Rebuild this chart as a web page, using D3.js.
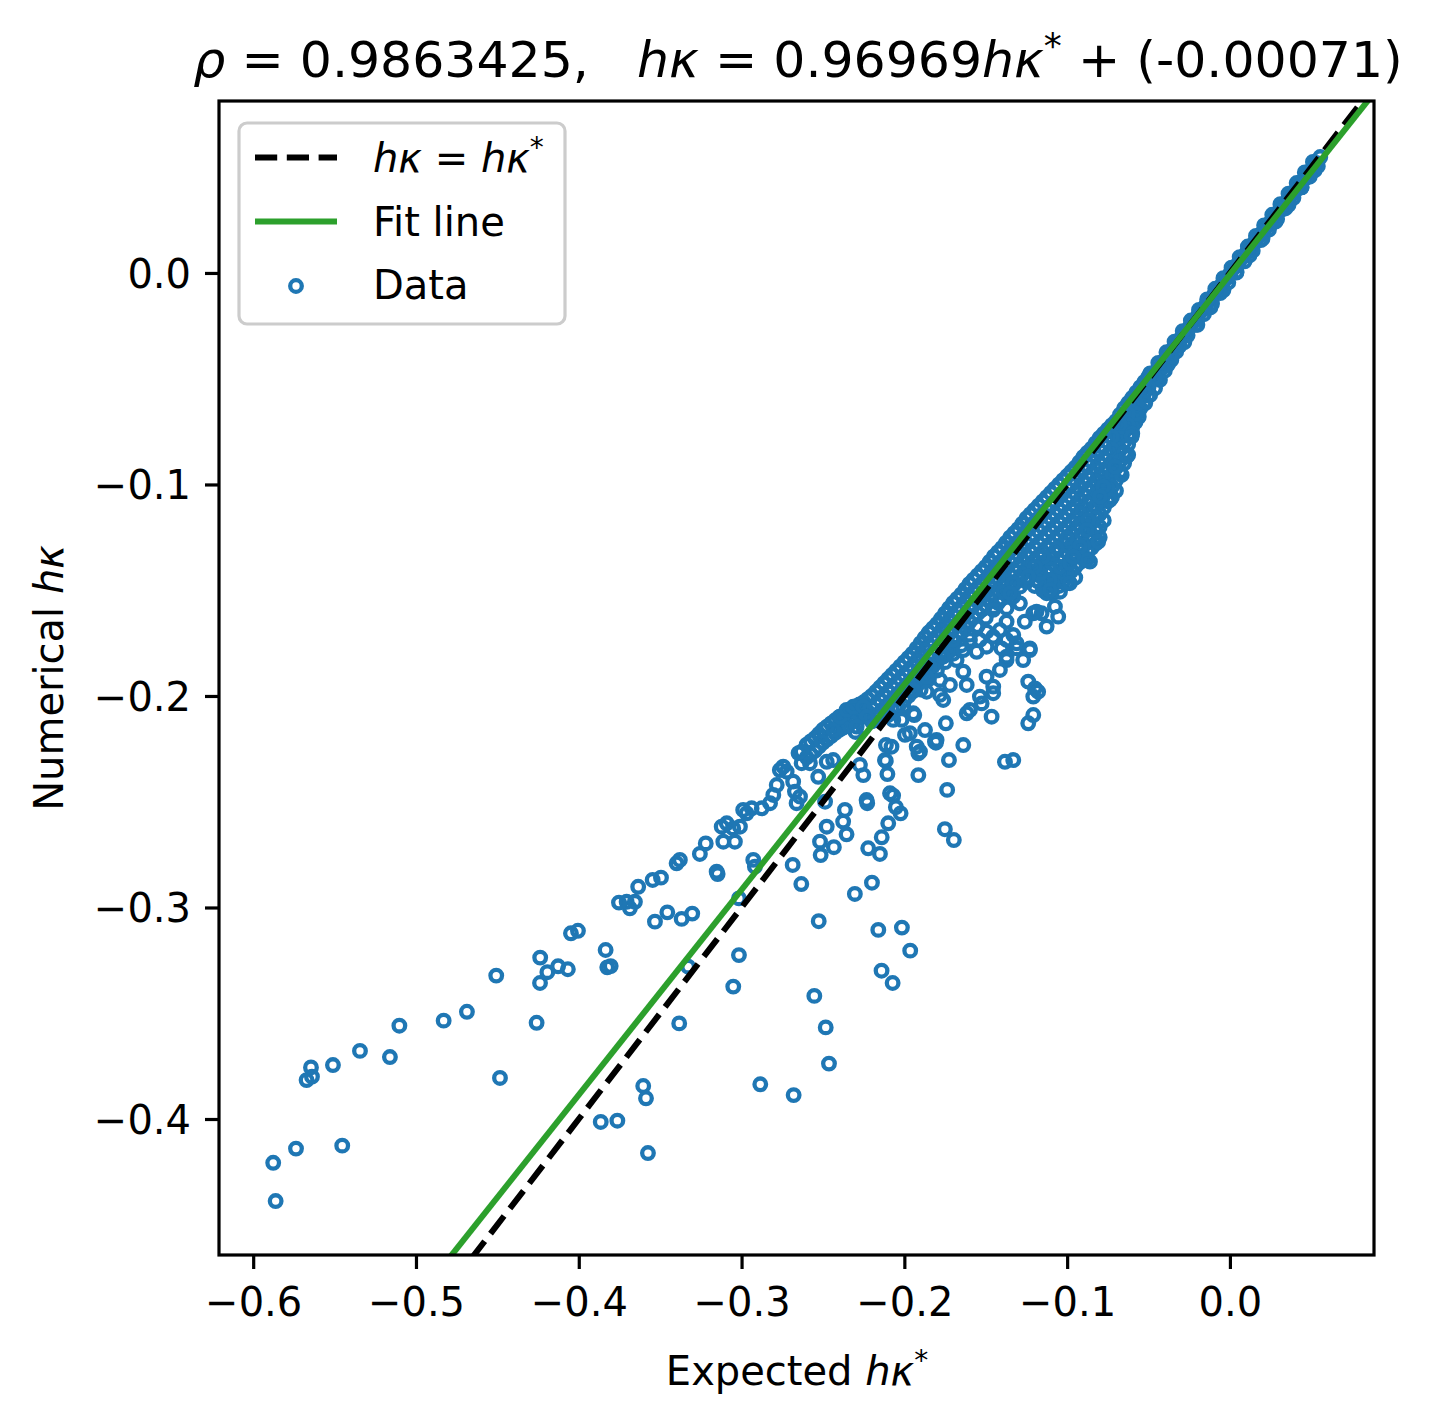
<!DOCTYPE html>
<html>
<head>
<meta charset="utf-8">
<script src="https://cdn.jsdelivr.net/npm/d3@7"></script>
<style>
  html, body { margin: 0; padding: 0; background: #fff; }
  svg text { font-family: "DejaVu Sans", sans-serif; white-space: pre; }
</style>
</head>
<body>
<svg id="chart" width="1432" height="1426"></svg>
<script>
// ---------------- DATA ----------------
const xTicks = [-0.6, -0.5, -0.4, -0.3, -0.2, -0.1, 0.0];
const yTicks = [-0.4, -0.3, -0.2, -0.1, 0.0];
const xDomain = [-0.621, 0.0885];
const yDomain = [-0.4643, 0.0813];
const fitSlope = 0.96969;
const fitIntercept = -0.00071;
const rhoValue = "0.9863425";

// tight band near the identity line (expected, numerical)
const bandPoints = [
  [0.0555,0.0548],[0.0530,0.0520],[0.0505,0.0492],[0.0480,0.0470],[0.0455,0.0442],
  [0.0430,0.0420],[0.0405,0.0392],[0.0380,0.0371],[0.0355,0.0343],[0.0330,0.0322],
  [0.0305,0.0294],[0.0280,0.0273],[0.0255,0.0246],[0.0230,0.0223],[0.0205,0.0197],
  [0.0180,0.0174],[0.0155,0.0148],[0.0130,0.0125],[0.0105,0.0099],[0.0080,0.0076],
  [0.0055,0.0050],[0.0030,0.0027],[0.0005,0.0001],[-0.0020,-0.0024],[-0.0045,-0.0050],
  [-0.0070,-0.0073],[-0.0095,-0.0100],[-0.0120,-0.0124],[-0.0145,-0.0150],[-0.0170,-0.0176],
  [-0.0195,-0.0200],[-0.0220,-0.0228],[-0.0245,-0.0252],[-0.0270,-0.0279],[-0.0295,-0.0302],
  [-0.0320,-0.0330],[-0.0345,-0.0353],[-0.0370,-0.0381],[-0.0395,-0.0405],[-0.0420,-0.0433],
  [-0.0445,-0.0457],[-0.0470,-0.0485],[-0.0495,-0.0509],
  [0.052,0.0485],[0.044,0.0405],[0.036,0.0322],[0.028,0.0243],[0.020,0.0162],[0.012,0.0083],
  [0.004,0.0002],[-0.004,-0.0081],[-0.012,-0.0163],[-0.020,-0.0245],[-0.028,-0.0327],
  [-0.036,-0.0411],[-0.044,-0.0497],
  [-0.043,-0.0506],[-0.049,-0.0577],[-0.040,-0.0462],[-0.046,-0.0545],[-0.052,-0.0615],
  [-0.056,-0.0680],[-0.058,-0.0705],[-0.038,-0.0432],[-0.033,-0.0372]
];
const bandLowerRow = [
  [0.054,0.0505],[0.049,0.0455],[0.044,0.0405],[0.039,0.0355],[0.034,0.0305],[0.029,0.0255],
  [0.024,0.0205],[0.019,0.0155],[0.014,0.0105],[0.009,0.0055],[0.004,0.0005],[-0.001,-0.0045],
  [-0.006,-0.0095],[-0.011,-0.0145],[-0.016,-0.0195],[-0.021,-0.0245],[-0.026,-0.0295],
  [-0.031,-0.0345],[-0.036,-0.0395],[-0.041,-0.0445],[-0.046,-0.0495]
];
const bandUpperRow = [
  [0.051,0.0525],[0.046,0.0475],[0.041,0.0425],[0.036,0.0375],[0.031,0.0325],[0.026,0.0275],
  [0.021,0.0225],[0.016,0.0175],[0.011,0.0125],[0.006,0.0075],[0.001,0.0025],[-0.004,-0.0025],
  [-0.009,-0.0075],[-0.014,-0.0125],[-0.019,-0.0175],[-0.024,-0.0225],[-0.029,-0.0275],
  [-0.034,-0.0325],[-0.039,-0.0375],[-0.044,-0.0425],[-0.049,-0.0475]
];

// dense cluster: [expected, numerical values ...]
const clusterColumns = [
  [-0.050, -0.049, -0.054, -0.058],
  [-0.055, -0.054, -0.059, -0.064],
  [-0.060, -0.059, -0.064, -0.069, -0.073],
  [-0.065, -0.064, -0.069, -0.075, -0.080],
  [-0.070, -0.070, -0.075, -0.081, -0.087],
  [-0.075, -0.074, -0.080, -0.086, -0.092, -0.097],
  [-0.080, -0.078, -0.084, -0.090, -0.096, -0.102],
  [-0.085, -0.083, -0.089, -0.095, -0.101, -0.107, -0.112],
  [-0.090, -0.087, -0.093, -0.099, -0.105, -0.111, -0.117],
  [-0.095, -0.092, -0.098, -0.104, -0.110, -0.116, -0.121],
  [-0.100, -0.096, -0.102, -0.108, -0.114, -0.120, -0.126],
  [-0.105, -0.100, -0.106, -0.112, -0.118, -0.124, -0.130],
  [-0.110, -0.104, -0.110, -0.116, -0.122, -0.128, -0.134],
  [-0.115, -0.108, -0.114, -0.120, -0.126, -0.132, -0.138],
  [-0.120, -0.112, -0.118, -0.124, -0.130, -0.136, -0.142],
  [-0.125, -0.116, -0.122, -0.128, -0.134, -0.140, -0.146],
  [-0.130, -0.121, -0.127, -0.133, -0.139, -0.145],
  [-0.135, -0.125, -0.131, -0.137, -0.143, -0.149],
  [-0.140, -0.130, -0.136, -0.142, -0.148, -0.154],
  [-0.145, -0.134, -0.140, -0.146, -0.152, -0.158],
  [-0.150, -0.139, -0.145, -0.151, -0.157, -0.163],
  [-0.155, -0.143, -0.149, -0.155, -0.161, -0.167],
  [-0.160, -0.147, -0.153, -0.159, -0.165, -0.171],
  [-0.165, -0.152, -0.158, -0.164, -0.170, -0.176],
  [-0.170, -0.156, -0.162, -0.168, -0.174, -0.180],
  [-0.175, -0.161, -0.167, -0.173, -0.179, -0.184],
  [-0.180, -0.166, -0.172, -0.178, -0.184, -0.188],
  [-0.185, -0.170, -0.176, -0.182, -0.188, -0.192],
  [-0.190, -0.175, -0.181, -0.187, -0.193, -0.197],
  [-0.195, -0.180, -0.186, -0.192, -0.198],
  [-0.200, -0.184, -0.190, -0.196, -0.202],
  [-0.205, -0.188, -0.194, -0.200, -0.206],
  [-0.210, -0.192, -0.198, -0.204, -0.209],
  [-0.215, -0.196, -0.202, -0.208],
  [-0.220, -0.200, -0.206, -0.212],
  [-0.225, -0.203, -0.209, -0.215],
  [-0.230, -0.205, -0.211, -0.217],
  [-0.235, -0.208, -0.214],
  [-0.240, -0.210, -0.216],
  [-0.245, -0.213, -0.219],
  [-0.250, -0.216, -0.222],
  [-0.255, -0.220, -0.226],
  [-0.260, -0.223, -0.229],
  [-0.265, -0.227]
];
const clusterColumnsMid = [
  [-0.0525, -0.0515, -0.0565, -0.0610],
  [-0.0575, -0.0565, -0.0615, -0.0665],
  [-0.0625, -0.0615, -0.0665, -0.0720, -0.0770],
  [-0.0675, -0.0670, -0.0720, -0.0780, -0.0835],
  [-0.0725, -0.0720, -0.0775, -0.0835, -0.0895],
  [-0.0775, -0.0760, -0.0820, -0.0880, -0.0940, -0.0995],
  [-0.0825, -0.0805, -0.0865, -0.0925, -0.0985, -0.1045],
  [-0.0875, -0.0850, -0.0910, -0.0970, -0.1030, -0.1090, -0.1145],
  [-0.0925, -0.0895, -0.0955, -0.1015, -0.1075, -0.1135, -0.1190],
  [-0.0975, -0.0940, -0.1000, -0.1060, -0.1120, -0.1180, -0.1235],
  [-0.1025, -0.0980, -0.1040, -0.1100, -0.1160, -0.1220, -0.1280],
  [-0.1075, -0.1020, -0.1080, -0.1140, -0.1200, -0.1260, -0.1320],
  [-0.1125, -0.1060, -0.1120, -0.1180, -0.1240, -0.1300, -0.1360],
  [-0.1175, -0.1100, -0.1160, -0.1220, -0.1280, -0.1340, -0.1400],
  [-0.1225, -0.1140, -0.1200, -0.1260, -0.1320, -0.1380],
  [-0.1275, -0.1185, -0.1245, -0.1305, -0.1365, -0.1425],
  [-0.1325, -0.1230, -0.1290, -0.1350, -0.1410, -0.1470],
  [-0.1375, -0.1275, -0.1335, -0.1395, -0.1455, -0.1515],
  [-0.1425, -0.1320, -0.1380, -0.1440, -0.1500, -0.1560],
  [-0.1475, -0.1365, -0.1425, -0.1485, -0.1545],
  [-0.1525, -0.1410, -0.1470, -0.1530, -0.1590],
  [-0.1575, -0.1450, -0.1510, -0.1570, -0.1630],
  [-0.1625, -0.1495, -0.1555, -0.1615, -0.1675],
  [-0.1675, -0.1540, -0.1600, -0.1660, -0.1720],
  [-0.1725, -0.1585, -0.1645, -0.1705, -0.1765],
  [-0.1775, -0.1635, -0.1695, -0.1755, -0.1815],
  [-0.1825, -0.1680, -0.1740, -0.1800, -0.1860],
  [-0.1875, -0.1725, -0.1785, -0.1845, -0.1905],
  [-0.1925, -0.1775, -0.1835, -0.1895, -0.1950],
  [-0.1975, -0.1820, -0.1880, -0.1940, -0.2000],
  [-0.2025, -0.1860, -0.1920, -0.1980],
  [-0.2075, -0.1900, -0.1960, -0.2020],
  [-0.2125, -0.1940, -0.2000, -0.2060],
  [-0.2175, -0.1980, -0.2040, -0.2100],
  [-0.2225, -0.2015, -0.2075],
  [-0.2275, -0.2040, -0.2100],
  [-0.2325, -0.2065, -0.2125],
  [-0.2375, -0.2090, -0.2150],
  [-0.2425, -0.2115, -0.2175],
  [-0.2475, -0.2145, -0.2205],
  [-0.2525, -0.2180, -0.2240],
  [-0.2575, -0.2215, -0.2275]
];
// deeper part of the solid cluster (-0.12 .. -0.06)
const clusterColumnsDeep = [
  [-0.0600, -0.076],
  [-0.0625, -0.081, -0.086],
  [-0.0650, -0.085, -0.090],
  [-0.0675, -0.089, -0.094],
  [-0.0700, -0.092, -0.098, -0.103],
  [-0.0725, -0.095, -0.101, -0.106],
  [-0.0750, -0.102, -0.108],
  [-0.0775, -0.105, -0.111, -0.117],
  [-0.0800, -0.108, -0.114, -0.120, -0.125],
  [-0.0825, -0.110, -0.116, -0.122, -0.128],
  [-0.0850, -0.118, -0.124, -0.130],
  [-0.0875, -0.120, -0.126, -0.132],
  [-0.0900, -0.123, -0.129, -0.135],
  [-0.0925, -0.125, -0.131, -0.137],
  [-0.0950, -0.127, -0.133, -0.139, -0.144],
  [-0.0975, -0.129, -0.135, -0.141],
  [-0.1000, -0.132, -0.138, -0.143],
  [-0.1025, -0.134, -0.140, -0.146],
  [-0.1050, -0.136, -0.142, -0.148],
  [-0.1075, -0.138, -0.144],
  [-0.1100, -0.140, -0.146],
  [-0.1125, -0.142, -0.148],
  [-0.1150, -0.144, -0.150],
  [-0.1175, -0.146],
  [-0.1200, -0.148]
];

// scattered points below the dense cluster
const spreadPoints = [
  [-0.086,-0.1365],[-0.1024,-0.142],[-0.1003,-0.1467],[-0.1044,-0.1507],[-0.1095,-0.1514],[-0.1085,-0.1475],
  [-0.1075,-0.1578],[-0.1055,-0.1625],[-0.1126,-0.1672],[-0.1157,-0.1609],[-0.1188,-0.1601],
  [-0.126,-0.1649],[-0.1229,-0.1775],[-0.127,-0.183],[-0.131,-0.1775],[-0.1372,-0.1814],
  [-0.1239,-0.1932],[-0.1198,-0.1964],[-0.1178,-0.198],[-0.1208,-0.2003],[-0.1208,-0.209],[-0.1239,-0.2129],
  [-0.1331,-0.1712],[-0.1372,-0.1735],[-0.131,-0.1751],[-0.1403,-0.1775],[-0.1372,-0.183],[-0.1413,-0.1877],
  [-0.1495,-0.1909],[-0.1454,-0.1956],[-0.1454,-0.1987],[-0.1525,-0.2035],[-0.1536,-0.2003],[-0.1464,-0.2098],
  [-0.1597,-0.2066],[-0.1617,-0.2082],[-0.1638,-0.2232],[-0.1802,-0.2208],[-0.1904,-0.2263],[-0.1966,-0.2176],
  [-0.1945,-0.2082],[-0.2037,-0.2051],
  [-0.1863,-0.198],[-0.1781,-0.1995],[-0.172,-0.1948],[-0.1781,-0.1924],[-0.1617,-0.1948],[-0.1638,-0.1885],
  [-0.1679,-0.183],[-0.172,-0.1783],[-0.1638,-0.1783],[-0.1556,-0.1791],[-0.1495,-0.1767],[-0.1536,-0.1735],
  [-0.1454,-0.172],[-0.1413,-0.1688],[-0.1495,-0.1696],[-0.1556,-0.1672],[-0.1525,-0.1593],[-0.1454,-0.1593],
  [-0.1372,-0.1585],[-0.129,-0.1562],[-0.1372,-0.1649],[-0.1208,-0.1609],[-0.1126,-0.1514],[-0.1106,-0.1452],
  [-0.1188,-0.1452],[-0.129,-0.1483],[-0.1393,-0.1507],[-0.1331,-0.153],[-0.1044,-0.1389],[-0.0983,-0.1373],
  [-0.0983,-0.1467],[-0.1597,-0.1735],[-0.1658,-0.1696],[-0.17,-0.1735],[-0.1761,-0.1814],[-0.1843,-0.1861],
  [-0.1863,-0.1909],[-0.1945,-0.1972],[-0.2007,-0.2051],[-0.2068,-0.2113],[-0.1761,-0.2019],
  [-0.1382,-0.2311],[-0.1331,-0.2303],[-0.1229,-0.1783],[-0.1812,-0.2216],[-0.2119,-0.2303],[-0.2232,-0.2492],
  [-0.2088,-0.246],
  [-0.0604,-0.0774],[-0.0635,-0.0868],[-0.0665,-0.0955],[-0.0706,-0.0916],[-0.0737,-0.1073],[-0.0778,-0.101],
  [-0.0799,-0.1058],[-0.0809,-0.127],[-0.087,-0.1168],[-0.088,-0.1215],[-0.088,-0.1357],[-0.1106,-0.1499],
  [-0.1167,-0.142],[-0.1003,-0.1254],[-0.1065,-0.1302],[-0.1147,-0.1341],[-0.1198,-0.1389],[-0.1239,-0.1436],
  [-0.1331,-0.1467],[-0.1351,-0.1514],[-0.0921,-0.1294],[-0.0962,-0.1341]
];

// mid-range points (-0.38 .. -0.17)
const armPoints = [
  [-0.3706,-0.2973],[-0.3686,-0.3004],[-0.3655,-0.2973],[-0.3635,-0.2902],
  [-0.3532,-0.3067],[-0.3456,-0.3023],[-0.3368,-0.3054],[-0.3303,-0.3029],
  [-0.3546,-0.2870],[-0.3495,-0.2859],[-0.3399,-0.2791],[-0.3379,-0.2775],
  [-0.3256,-0.2747],[-0.3220,-0.2697],[-0.3153,-0.2831],[-0.3147,-0.2842],
  [-0.3122,-0.2618],[-0.3091,-0.2602],[-0.3051,-0.2626],[-0.3112,-0.2689],[-0.3041,-0.2689],
  [-0.3010,-0.2618],[-0.2990,-0.2539],[-0.2938,-0.2531],[-0.2969,-0.2555],
  [-0.2876,-0.2531],[-0.2825,-0.2507],[-0.2805,-0.2468],[-0.2784,-0.2421],[-0.2765,-0.2350],
  [-0.2744,-0.2334],[-0.2723,-0.2358],[-0.2683,-0.2405],[-0.2672,-0.2452],[-0.2641,-0.2476],[-0.2662,-0.2507],
  [-0.2631,-0.2263],[-0.2631,-0.2318],[-0.2580,-0.2318],[-0.2529,-0.2382],[-0.2518,-0.2192],[-0.2508,-0.2216],
  [-0.2477,-0.2311],[-0.2437,-0.2303],
  [-0.2487,-0.2500],[-0.2477,-0.2618],[-0.2518,-0.2689],[-0.2514,-0.2752],[-0.2433,-0.2715],[-0.2365,-0.2539],
  [-0.2376,-0.2594],[-0.2355,-0.2654],
  [-0.2437,-0.2161],[-0.2396,-0.2098],[-0.2355,-0.2066],[-0.2314,-0.2051],[-0.2252,-0.2051],[-0.2231,-0.2098],
  [-0.2293,-0.2145],
  [-0.2273,-0.2326],[-0.2252,-0.2374],[-0.2228,-0.2507],[-0.2222,-0.2720],[-0.2150,-0.2747],[-0.2139,-0.2668],
  [-0.2099,-0.2602],[-0.2069,-0.2471],[-0.2052,-0.2526],[-0.2023,-0.2555],
  [-0.2113,-0.2232],[-0.2079,-0.2240],[-0.2114,-0.2307],[-0.2104,-0.2369],[-0.2017,-0.2113],[-0.1939,-0.2090],
  [-0.1996,-0.2184],[-0.1924,-0.2240],[-0.1914,-0.2271],[-0.1873,-0.2161],[-0.1806,-0.2221],[-0.1745,-0.2129],
  [-0.1726,-0.2303],[-0.1914,-0.2374],[-0.1737,-0.2444],[-0.1751,-0.2630],[-0.1696,-0.2681]
];

// far tail points
const tailPoints = [
  [-0.5877,-0.4207],[-0.5862,-0.4388],[-0.5737,-0.4140],[-0.5453,-0.4126],[-0.5672,-0.3816],
  [-0.5639,-0.3800],[-0.5645,-0.3756],[-0.5510,-0.3745],[-0.5344,-0.3678],[-0.5160,-0.3707],
  [-0.5102,-0.3559],[-0.4830,-0.3535],[-0.4687,-0.3493],[-0.4507,-0.3322],[-0.4484,-0.3806],
  [-0.4259,-0.3545],[-0.4237,-0.3237],[-0.4238,-0.3357],[-0.4193,-0.3306],[-0.4127,-0.3278],
  [-0.4067,-0.3292],[-0.4048,-0.3122],[-0.4005,-0.3110],[-0.3835,-0.3201],[-0.3825,-0.3283],
  [-0.3804,-0.3277],[-0.3753,-0.2977],[-0.3865,-0.4014],[-0.3763,-0.4008],[-0.3604,-0.3844],
  [-0.3587,-0.3902],[-0.3575,-0.4161],[-0.3383,-0.3548],[-0.3328,-0.3280],[-0.3051,-0.3374],
  [-0.3016,-0.3225],[-0.2885,-0.3836],[-0.2680,-0.3887],[-0.2553,-0.3418],[-0.2483,-0.3567],
  [-0.2463,-0.3738],[-0.2526,-0.3065],[-0.2160,-0.3106],[-0.2015,-0.3095],[-0.1964,-0.3204],
  [-0.2140,-0.3299],[-0.2072,-0.3357],[-0.2304,-0.2936],[-0.2199,-0.2883],[-0.2633,-0.2889],
  [-0.2686,-0.2799],[-0.3016,-0.2957],[-0.2928,-0.2775],[-0.2918,-0.2807]
];

const legendLabels = ["identity", "Fit line", "Data"];

// ---------------- DRAW ----------------
const svg = d3.select("#chart");
const W = 1432, H = 1426;
const plot = { left: 219, right: 1374, top: 101, bottom: 1255 };
const blue = "#1f77b4", green = "#2ca02c";
const markerR = 5.8, markerW = 4.3;
const fmt = v => (v < 0 ? "\u2212" : "") + Math.abs(v).toFixed(1);

svg.append("rect").attr("width", W).attr("height", H).attr("fill", "#fff");

const x = d3.scaleLinear().domain(xDomain).range([plot.left, plot.right]);
const y = d3.scaleLinear().domain(yDomain).range([plot.bottom, plot.top]);

svg.append("defs").append("clipPath").attr("id", "clip")
  .append("rect").attr("x", plot.left).attr("y", plot.top)
  .attr("width", plot.right - plot.left).attr("height", plot.bottom - plot.top);

const allPoints = [];
[bandPoints, bandLowerRow, bandUpperRow].forEach(arr => arr.forEach(p => allPoints.push(p)));
[clusterColumns, clusterColumnsMid, clusterColumnsDeep].forEach(cols =>
  cols.forEach(col => col.slice(1).forEach(v => allPoints.push([col[0], v]))));
[spreadPoints, armPoints, tailPoints].forEach(arr => arr.forEach(p => allPoints.push(p)));

const gData = svg.append("g").attr("clip-path", "url(#clip)");
gData.selectAll("circle.pt").data(allPoints).join("circle")
  .attr("class", "pt")
  .attr("cx", d => x(d[0])).attr("cy", d => y(d[1]))
  .attr("r", markerR).attr("fill", "none").attr("stroke", blue).attr("stroke-width", markerW);

const line = d3.line().x(d => x(d[0])).y(d => y(d[1]));
const identityLine = xDomain.map(v => [v, v]);
const fitLine = xDomain.map(v => [v, fitSlope * v + fitIntercept]);

gData.append("path").attr("d", line(identityLine)).attr("fill", "none")
  .attr("stroke", "#000").attr("stroke-width", 6).attr("stroke-dasharray", "22.2,9.6");
gData.append("path").attr("d", line(fitLine)).attr("fill", "none")
  .attr("stroke", green).attr("stroke-width", 6);

// axes
const xAxis = d3.axisBottom(x).tickValues(xTicks).tickFormat(fmt).tickSize(14).tickSizeOuter(0).tickPadding(19);
const yAxis = d3.axisLeft(y).tickValues(yTicks).tickFormat(fmt).tickSize(14).tickSizeOuter(0).tickPadding(14);

const gx = svg.append("g").attr("transform", `translate(0,${plot.bottom})`).call(xAxis);
const gy = svg.append("g").attr("transform", `translate(${plot.left},0)`).call(yAxis);
[gx, gy].forEach(g => {
  g.select(".domain").remove();
  g.selectAll(".tick line").attr("stroke", "#000").attr("stroke-width", 3.2);
  g.selectAll(".tick text").attr("fill", "#000").style("font-size", "40px")
    .style("font-family", "'DejaVu Sans', sans-serif");
});
gy.selectAll(".tick text").attr("dy", "0.36em");

// spines
svg.append("rect").attr("x", plot.left).attr("y", plot.top)
  .attr("width", plot.right - plot.left).attr("height", plot.bottom - plot.top)
  .attr("fill", "none").attr("stroke", "#000").attr("stroke-width", 3.2);

// helper for math-like text
function mathText(sel, parts) {
  parts.forEach(p => {
    const t = sel.append("tspan").text(p.t);
    if (p.i) t.style("font-style", "italic");
    if (p.sup) t.attr("dy", p.dy).style("font-size", p.size);
    if (p.down) t.attr("dy", p.down);
  });
}

// title
const title = svg.append("text").attr("x", 798).attr("y", 77)
  .attr("text-anchor", "middle").style("font-size", "50.5px").attr("fill", "#000");
mathText(title, [
  { t: "\u03c1", i: true },
  { t: " = " + rhoValue + ",   " },
  { t: "h\u03ba", i: true },
  { t: " = " + fitSlope },
  { t: "h\u03ba", i: true },
  { t: "*", sup: true, dy: "-19", size: "36px" },
  { t: " + (" + fitIntercept.toFixed(5) + ")", down: "19" }
]);

// x label
const xl = svg.append("text").attr("x", 797).attr("y", 1385)
  .attr("text-anchor", "middle").style("font-size", "40px").attr("fill", "#000");
mathText(xl, [
  { t: "Expected " },
  { t: "h\u03ba", i: true },
  { t: "*", sup: true, dy: "-15", size: "28px" }
]);

// y label
const yl = svg.append("text").attr("transform", `translate(63,${(plot.top + plot.bottom) / 2}) rotate(-90)`)
  .attr("text-anchor", "middle").style("font-size", "40px").attr("fill", "#000");
mathText(yl, [
  { t: "Numerical " },
  { t: "h\u03ba", i: true }
]);

// legend
const lg = svg.append("g");
lg.append("rect").attr("x", 239).attr("y", 123).attr("width", 326).attr("height", 201)
  .attr("rx", 8).attr("fill", "#fff").attr("fill-opacity", 0.8)
  .attr("stroke", "#cccccc").attr("stroke-width", 3.2);
const rowY = [157.5, 221.5, 286];
lg.append("line").attr("x1", 255).attr("x2", 337).attr("y1", rowY[0]).attr("y2", rowY[0])
  .attr("stroke", "#000").attr("stroke-width", 6).attr("stroke-dasharray", "22.2,9.6");
lg.append("line").attr("x1", 255).attr("x2", 337).attr("y1", rowY[1]).attr("y2", rowY[1])
  .attr("stroke", green).attr("stroke-width", 6);
lg.append("circle").attr("cx", 296).attr("cy", rowY[2]).attr("r", markerR)
  .attr("fill", "none").attr("stroke", blue).attr("stroke-width", markerW);

const t0 = lg.append("text").attr("x", 373).attr("y", rowY[0] + 14).style("font-size", "40px").attr("fill", "#000");
mathText(t0, [
  { t: "h\u03ba", i: true },
  { t: " = " },
  { t: "h\u03ba", i: true },
  { t: "*", sup: true, dy: "-15", size: "28px" }
]);
lg.append("text").attr("x", 373).attr("y", rowY[1] + 14).style("font-size", "40px").attr("fill", "#000").text(legendLabels[1]);
lg.append("text").attr("x", 373).attr("y", rowY[2] + 13).style("font-size", "40px").attr("fill", "#000").text(legendLabels[2]);
</script>
</body>
</html>
